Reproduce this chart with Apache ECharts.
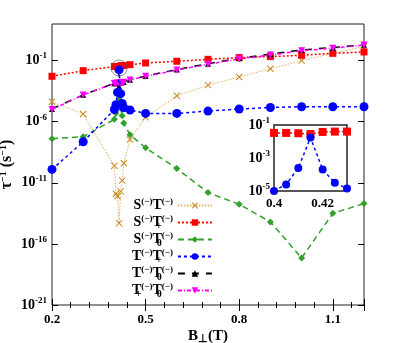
<!DOCTYPE html>
<html>
<head>
<meta charset="utf-8">
<script src="https://cdn.jsdelivr.net/npm/echarts@6/dist/echarts.min.js"></script>
<style>
  html, body { margin: 0; padding: 0; background: #fff; }
  #chart { width: 409px; height: 343px; }
</style>
</head>
<body>
<div id="chart"></div>
<script>
// B field samples (T)
var bField = [0.2, 0.3, 0.4, 0.405, 0.41, 0.415, 0.42, 0.425, 0.43, 0.45, 0.5, 0.6, 0.7, 0.8, 0.9, 1.0, 1.1, 1.2];

// rates, stored as log10 of tau^-1 (s^-1)
var sTminusLog = [-4.36, -5.37, -9.6, -11.9, -12.1, -14.3, -11.7, -10.8, -9.4, -7.45, -5.64, -3.87, -3.0, -2.34, -1.66, -1.0, -0.4, 0.15];
var sTplusLog  = [-2.28, -1.82, -1.48, -1.48, -1.5, -1.55, -1.42, -1.4, -1.4, -1.33, -1.19, -1.05, -0.89, -0.75, -0.67, -0.56, -0.4, -0.29];
var sT0Log     = [-7.39, -7.23, -5.8, -5.3, -4.8, -4.14, -4.9, -5.5, -6.1, -7.07, -8.13, -9.83, -11.8, -12.75, -14.2, -17.15, -13.5, -12.7];
var tmTpLog    = [-9.9, -7.64, -5.0, -4.6, -3.6, -1.76, -3.7, -4.5, -4.85, -5.04, -5.32, -5.32, -5.13, -4.96, -4.83, -4.77, -4.77, -4.77];
var tmT0Log    = [-4.95, -3.8, -2.85, -2.84, -2.82, -3.1, -2.78, -2.76, -2.74, -2.56, -2.25, -1.73, -1.25, -0.8, -0.47, -0.12, 0.07, 0.3];
var tpT0Log    = [-4.99, -3.81, -2.86, -2.85, -2.83, -2.82, -2.8, -2.78, -2.76, -2.58, -2.28, -1.77, -1.3, -0.86, -0.54, -0.18, 0.01, 0.28];

// tick labels
var mainYTicks = [1e-21, 1e-16, 1e-11, 1e-6, 1e-1];
var insetYTicks = [1e-5, 1e-3, 1e-1];
var insetXTicks = [0.4, 0.42];

// circled point
var circleMark = [[0.415, -1.6]];

var names = ['S(-)T-(-)', 'S(-)T+(-)', 'S(-)T0(-)', 'T-(-)T+(-)', 'T-(-)T0(-)', 'T+(-)T0(-)'];
var labels = {
  'S(-)T-(-)':  '{m|S}{p|(−)}{m|T}{d|−}{p|(−)}',
  'S(-)T+(-)':  '{m|S}{p|(−)}{m|T}{d|+}{p|(−)}',
  'S(-)T0(-)':  '{m|S}{p|(−)}{m|T}{d|0}{p|(−)}',
  'T-(-)T+(-)': '{m|T}{d|−}{p|(−)}{m|T}{d|+}{p|(−)}',
  'T-(-)T0(-)': '{m|T}{d|−}{p|(−)}{m|T}{d|0}{p|(−)}',
  'T+(-)T0(-)': '{m|T}{d|+}{p|(−)}{m|T}{d|0}{p|(−)}'
};

function pairs(logs) {
  return bField.map(function (b, i) { return [b, Math.pow(10, logs[i])]; });
}
function insetPairs(logs) {
  return pairs(logs).filter(function (p) { return p[0] >= 0.4 && p[0] <= 0.43; });
}

var serif = 'Liberation Serif';
var xShape = 'path://M0,1L1,0L5,4L9,0L10,1L6,5L10,9L9,10L5,6L1,10L0,9L4,5Z';

var chart = echarts.init(document.getElementById('chart'));

function expLabel(v) {
  var e = Math.round(Math.log10(v));
  return '{b|10}{s|' + e + '}';
}
var expRich = {
  b: { fontFamily: serif, fontWeight: 'bold', fontSize: 14, color: '#000', lineHeight: 18 },
  s: { fontFamily: serif, fontWeight: 'bold', fontSize: 9, color: '#000', verticalAlign: 'top', lineHeight: 9 }
};

var option = {
  animation: false,
  backgroundColor: '#fff',
  grid: [
    { left: 52, right: 45, top: 24, bottom: 38, show: true, borderColor: '#222', borderWidth: 1, outerBoundsMode: 'none', containLabel: false },
    { left: 274, top: 125, width: 73, height: 66, show: true, borderColor: '#222', borderWidth: 1.5, backgroundColor: '#fff', z: 10, outerBoundsMode: 'none', containLabel: false }
  ],
  legend: {
    data: names,
    orient: 'vertical',
    left: 127,
    top: 192,
    align: 'right',
    itemWidth: 34,
    itemHeight: 8,
    itemGap: 0,
    formatter: function (n) { return labels[n]; },
    textStyle: {
      rich: {
        m: { fontFamily: serif, fontWeight: 'bold', fontSize: 14, color: '#000', lineHeight: 17 },
        p: { fontFamily: serif, fontWeight: 'bold', fontSize: 9, color: '#000', verticalAlign: 'top', lineHeight: 9 },
        d: { fontFamily: serif, fontWeight: 'bold', fontSize: 10, color: '#000', verticalAlign: 'bottom', lineHeight: 10, width: 0 }
      }
    }
  },
  xAxis: [
    {
      type: 'value', gridIndex: 0, position: 'bottom', min: 0.2, max: 1.2, interval: 0.3,
      axisLine: { show: false },
      axisTick: { inside: true, length: 6, lineStyle: { color: '#000' } },
      minorTick: { show: true, splitNumber: 5, length: 3, lineStyle: { color: '#000' } },
      splitLine: { show: false },
      axisLabel: { fontFamily: serif, fontWeight: 'bold', fontSize: 13, color: '#000', margin: 8, showMinLabel: true, showMaxLabel: false, hideOverlap: false },
      name: '{b|B}{d|⊥}{b|(T)}', nameLocation: 'middle', nameGap: 22, nameMoveOverlap: false,
      nameTextStyle: {
        rich: {
          b: { fontFamily: serif, fontWeight: 'bold', fontSize: 15, color: '#000', lineHeight: 18 },
          d: { fontFamily: serif, fontWeight: 'bold', fontSize: 11, color: '#000', verticalAlign: 'bottom', lineHeight: 11 }
        }
      }
    },
    {
      type: 'value', gridIndex: 0, position: 'top', min: 0.2, max: 1.2, interval: 0.3,
      axisLine: { show: false },
      axisTick: { inside: true, length: 6, lineStyle: { color: '#000' } },
      minorTick: { show: true, splitNumber: 5, length: 3, lineStyle: { color: '#000' } },
      splitLine: { show: false },
      axisLabel: { show: false }
    },
    {
      type: 'value', gridIndex: 1, position: 'bottom', min: 0.4, max: 0.43,
      axisLine: { show: false },
      axisTick: { inside: true, length: 4, lineStyle: { color: '#000' }, customValues: insetXTicks },
      splitLine: { show: false },
      axisLabel: { fontFamily: serif, fontWeight: 'bold', fontSize: 13, color: '#000', margin: 6,
        customValues: insetXTicks,
        formatter: function (v) { return String(Math.round(v * 100) / 100); } }
    }
  ],
  yAxis: [
    {
      type: 'log', logBase: 10, gridIndex: 0, position: 'left', min: 1e-21, max: 1e2,
      axisLine: { show: false },
      axisTick: { inside: true, length: 6, lineStyle: { color: '#000' }, customValues: mainYTicks },
      splitLine: { show: false },
      axisLabel: { formatter: expLabel, rich: expRich, margin: 5, customValues: mainYTicks, hideOverlap: false },
      name: '{b|τ}{s|−1}{b| (s}{s|−1}{b|)}', nameLocation: 'middle', nameGap: 36, nameRotate: 90, nameMoveOverlap: false,
      nameTextStyle: {
        rich: {
          b: { fontFamily: serif, fontWeight: 'bold', fontSize: 16, color: '#000', lineHeight: 18 },
          s: { fontFamily: serif, fontWeight: 'bold', fontSize: 10, color: '#000', verticalAlign: 'top', lineHeight: 10 }
        }
      }
    },
    {
      type: 'log', logBase: 10, gridIndex: 0, position: 'right', min: 1e-21, max: 1e2,
      axisLine: { show: false },
      axisTick: { inside: true, length: 6, lineStyle: { color: '#000' }, customValues: mainYTicks },
      splitLine: { show: false },
      axisLabel: { show: false }
    },
    {
      type: 'log', logBase: 10, gridIndex: 1, position: 'left', min: 1e-5, max: 1e-1,
      axisLine: { show: false },
      axisTick: { inside: true, length: 4, lineStyle: { color: '#000' }, customValues: insetYTicks },
      splitLine: { show: false },
      axisLabel: { formatter: expLabel, rich: expRich, margin: 4, customValues: insetYTicks, hideOverlap: false }
    }
  ],
  series: [
    {
      name: names[0], type: 'line', xAxisIndex: 0, yAxisIndex: 0, data: pairs(sTminusLog),
      symbol: xShape, symbolSize: 7, itemStyle: { color: '#c8861e' },
      lineStyle: { color: '#e8b060', width: 1, type: [1.5, 1.5] }, z: 3
    },
    {
      name: names[1], type: 'line', xAxisIndex: 0, yAxisIndex: 0, data: pairs(sTplusLog),
      symbol: 'rect', symbolSize: 7, itemStyle: { color: '#ff0000' },
      lineStyle: { color: '#ff0000', width: 1.5, type: [2, 2] }, z: 3
    },
    {
      name: names[2], type: 'line', xAxisIndex: 0, yAxisIndex: 0, data: pairs(sT0Log),
      symbol: 'diamond', symbolSize: 7, itemStyle: { color: '#33a02c' },
      lineStyle: { color: '#33a02c', width: 1.5, type: [6, 4] }, z: 3
    },
    {
      name: names[3], type: 'line', xAxisIndex: 0, yAxisIndex: 0, data: pairs(tmTpLog),
      symbol: 'circle', symbolSize: 9, itemStyle: { color: '#0000ff' },
      lineStyle: { color: '#0000ff', width: 1.5, type: [3, 3] }, z: 4
    },
    {
      name: names[4], type: 'line', xAxisIndex: 0, yAxisIndex: 0, data: pairs(tmT0Log),
      symbol: 'triangle', symbolSize: 6, itemStyle: { color: '#000' },
      lineStyle: { color: '#000', width: 1.5, type: [7, 7] }, z: 3
    },
    {
      name: names[5], type: 'line', xAxisIndex: 0, yAxisIndex: 0, data: pairs(tpT0Log),
      symbol: 'triangle', symbolRotate: 180, symbolSize: 7, itemStyle: { color: '#ff00ff' },
      lineStyle: { color: '#ff00ff', width: 1.5, type: [4, 2, 1, 2] }, z: 3
    },
    {
      name: 'circle', type: 'scatter', xAxisIndex: 0, yAxisIndex: 0,
      data: circleMark.map(function (p) { return [p[0], Math.pow(10, p[1])]; }),
      symbol: 'circle', symbolSize: 16,
      itemStyle: { color: 'rgba(0,0,0,0)', borderColor: '#555', borderWidth: 0.8 }, z: 5
    },
    {
      name: 'inset-red', type: 'line', xAxisIndex: 2, yAxisIndex: 2, data: insetPairs(sTplusLog),
      symbol: 'rect', symbolSize: 8, itemStyle: { color: '#ff0000' },
      lineStyle: { color: '#ff0000', width: 1.5, type: [2, 2] }, z: 11
    },
    {
      name: 'inset-blue', type: 'line', xAxisIndex: 2, yAxisIndex: 2, data: insetPairs(tmTpLog),
      symbol: 'circle', symbolSize: 8, itemStyle: { color: '#0000ff' },
      lineStyle: { color: '#0000ff', width: 1.5, type: [3, 3] }, z: 12
    }
  ]
};

chart.setOption(option);
</script>
</body>
</html>
